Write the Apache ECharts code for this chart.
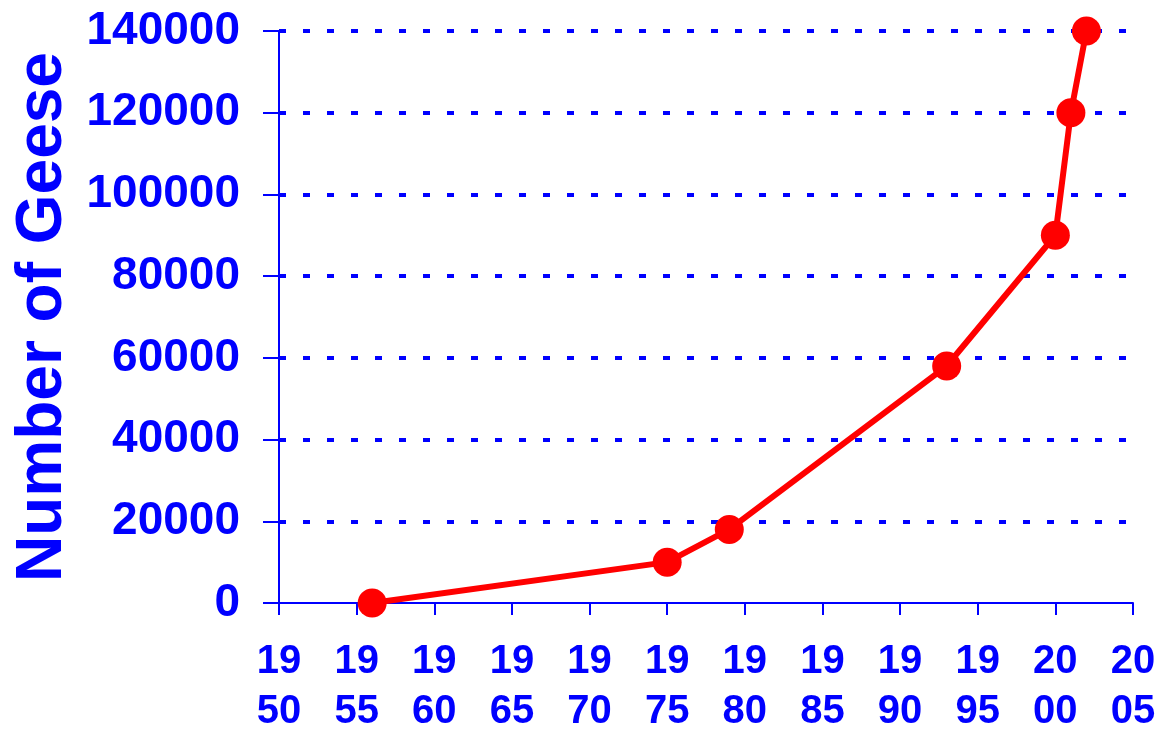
<!DOCTYPE html>
<html>
<head>
<meta charset="utf-8">
<script src="https://cdn.jsdelivr.net/npm/echarts@6/dist/echarts.min.js"></script>
<style>
  html, body { margin: 0; padding: 0; background: #fff; }
  #chart { width: 1160px; height: 731px; }
</style>
</head>
<body>
<div id="chart"></div>
<script>
const years = [1956, 1975, 1979, 1993, 2000, 2001, 2002];
const geese = [0, 10000, 18000, 58000, 90000, 120000, 140000];

const blue = "#0000ff";
const font = "'Liberation Sans', Arial, sans-serif";

const chart = echarts.init(document.getElementById("chart"));

const option = {
  animation: false,
  grid: {
    left: 279,
    right: 27,
    top: 31,
    bottom: 128,
    containLabel: false,
    outerBoundsMode: "none",
  },
  xAxis: {
    type: "value",
    min: 1950,
    max: 2005,
    interval: 5,
    axisLine: { lineStyle: { color: blue, width: 2 } },
    axisTick: { length: 12, lineStyle: { color: blue, width: 2 } },
    splitLine: { show: false },
    axisLabel: {
      color: blue,
      fontFamily: font,
      fontWeight: "bold",
      fontSize: 40,
      lineHeight: 50,
      margin: 34,
      formatter: (v) => {
        const s = String(v);
        return s.slice(0, 2) + "\n" + s.slice(2);
      },
    },
  },
  yAxis: {
    type: "value",
    min: 0,
    max: 140000,
    interval: 20000,
    name: "Number of Geese",
    nameLocation: "middle",
    nameGap: 203,
    nameTextStyle: {
      color: blue,
      fontFamily: font,
      fontWeight: "bold",
      fontSize: 64,
    },
    axisLine: { show: true, lineStyle: { color: blue, width: 2 } },
    axisTick: { show: true, length: 16, lineStyle: { color: blue, width: 2 } },
    splitLine: {
      showMinLine: false,
      lineStyle: { color: blue, width: 4, type: [7, 17] },
    },
    axisLabel: {
      color: blue,
      fontFamily: font,
      fontWeight: "bold",
      fontSize: 46,
      margin: 39,
      formatter: (v) => String(v),
    },
  },
  series: [
    {
      type: "line",
      data: years.map((y, i) => [y, geese[i]]),
      symbol: "circle",
      symbolSize: 29,
      lineStyle: { color: "#ff0000", width: 6 },
      itemStyle: { color: "#ff0000" },
    },
  ],
};

chart.setOption(option);
</script>
</body>
</html>
